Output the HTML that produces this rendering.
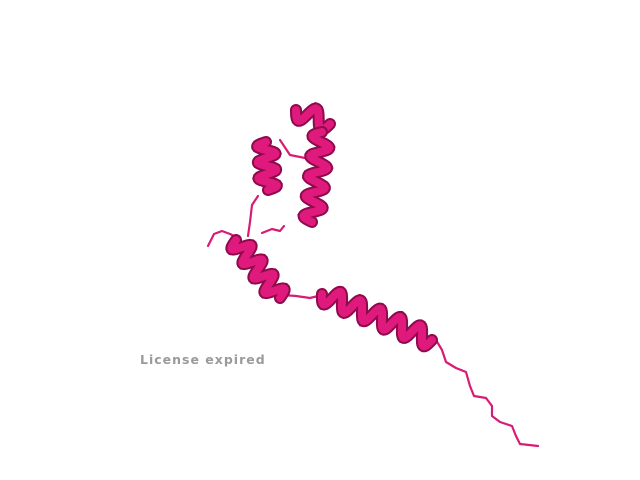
<!DOCTYPE html>
<html>
<head>
<meta charset="utf-8">
<style>
html,body{margin:0;padding:0;background:#fff;}
#wrap{width:640px;height:480px;position:relative;overflow:hidden;}
svg{position:absolute;left:0;top:0;}
</style>
</head>
<body>
<div id="wrap">
<svg id="mol" width="640" height="480" viewBox="0 0 640 480">
  <g id="coils" fill="none" stroke="#d81b74" stroke-width="2.2" stroke-linecap="round" stroke-linejoin="round">
    <polyline points="208,246 214,234 222,231 230,234 238,238"/>
    <polyline points="248,236 250,222 252,205 258,196"/>
    <polyline points="262,233 272,229 280,231 284,226"/>
    <polyline points="280,140 290,155 305,158 318,160"/>
    <polyline points="283,295 296,296 310,298 318,296"/>
    <polyline points="436,340 442,350 446,362 456,368 466,372 470,386 474,396 486,398 492,406 492,416 500,422 512,426 516,436 520,444 538,446"/>
  </g>
  <g id="helices"></g>
  <text x="140" y="364" font-family="DejaVu Sans, sans-serif" font-size="12.5" font-weight="bold" letter-spacing="1" fill="#9a9a9a">License expired</text>
</svg>
</div>
<script>
const helixStarts = [[322,294],[236,240],[266,142],[296,110],[322,132]];
const helixEnds   = [[432,340],[280,298],[268,190],[330,124],[312,222]];
const helixTurns  = [5.5,4,3,1.5,4.5];
const helixNames  = ['helix-long','helix-lower','helix-left','helix-top','helix-right'];
const g = document.getElementById('helices');
const NS = 'http://www.w3.org/2000/svg';
for (let i = 0; i < helixStarts.length; i++) {
  const [x1,y1] = helixStarts[i], [x2,y2] = helixEnds[i];
  const dx = x2-x1, dy = y2-y1, L = Math.hypot(dx,dy);
  const nx = -dy/L, ny = dx/L, amp = 9;
  const turns = helixTurns[i];
  let d = '';
  const N = 160;
  for (let k = 0; k <= N; k++) {
    const t = k/N;
    const s = Math.sin(t*turns*2*Math.PI) * amp;
    const x = x1 + dx*t + nx*s, y = y1 + dy*t + ny*s;
    d += (k ? 'L' : 'M') + x.toFixed(1) + ',' + y.toFixed(1);
  }
  const back = document.createElementNS(NS,'path');
  back.setAttribute('d', d);
  back.setAttribute('fill','none');
  back.setAttribute('stroke','#8e0a4c');
  back.setAttribute('stroke-width', '12');
  back.setAttribute('stroke-linecap','round');
  
  
  g.appendChild(back);
  const p = document.createElementNS(NS,'path');
  p.setAttribute('d', d);
  p.setAttribute('fill','none');
  p.setAttribute('stroke','#e0197c');
  p.setAttribute('stroke-width', '8');
  p.setAttribute('stroke-linecap','round');
  
  
  g.appendChild(p);
}
</script>
</body>
</html>
